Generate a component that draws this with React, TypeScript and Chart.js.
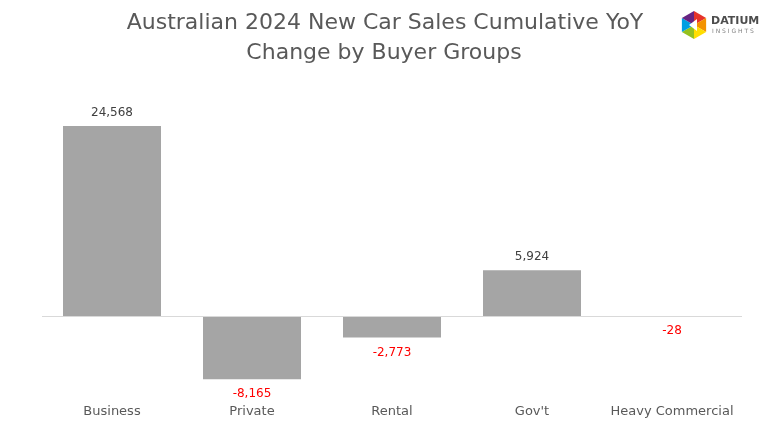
import React, { useEffect, useRef } from "react";
import { Chart, registerables } from "chart.js";
Chart.register(...registerables);

const categories = ["Business", "Private", "Rental", "Gov't", "Heavy Commercial"];
const yoyChange = [24568, -8165, -2773, 5924, -28];
const titleLines = ["Australian 2024 New Car Sales Cumulative YoY", "Change by Buyer Groups"];

const FONT = "'DejaVu Sans', sans-serif";

const decorPlugin = {
  id: "decor",
  afterDraw(chart: any) {
    const ctx = chart.ctx;
    const ys = chart.scales.y;
    const area = chart.chartArea;
    const y0 = Math.round(ys.getPixelForValue(0)) + 0.5;
    ctx.save();
    ctx.strokeStyle = "#d9d9d9";
    ctx.lineWidth = 1;
    ctx.beginPath();
    ctx.moveTo(area.left, y0);
    ctx.lineTo(area.right, y0);
    ctx.stroke();
    const meta = chart.getDatasetMeta(0);
    ctx.font = `12px ${FONT}`;
    ctx.textAlign = "center";
    ctx.textBaseline = "middle";
    meta.data.forEach((bar: any, i: number) => {
      const v = yoyChange[i];
      const txt = v.toLocaleString("en-US");
      if (v >= 0) {
        ctx.fillStyle = "#404040";
        ctx.fillText(txt, bar.x, bar.y - 13);
      } else {
        ctx.fillStyle = "#ff0000";
        ctx.fillText(txt, bar.x, bar.y + 15);
      }
    });
    ctx.fillStyle = "#595959";
    ctx.font = `22px ${FONT}`;
    ctx.fillText(titleLines[0], 385, 23);
    ctx.fillText(titleLines[1], 384, 53);
    // logo
    const cx = 694, cy = 25, r = 14;
    const cols = ["#e6332a", "#f39200", "#ffde00", "#95c11f", "#009fe3", "#662483"];
    for (let k = 0; k < 6; k++) {
      const a1 = -Math.PI / 2 + (k * Math.PI) / 3;
      const a2 = a1 + Math.PI / 3;
      ctx.fillStyle = cols[k];
      ctx.beginPath();
      ctx.moveTo(cx, cy);
      ctx.lineTo(cx + r * Math.cos(a1), cy + r * Math.sin(a1));
      ctx.lineTo(cx + r * Math.cos(a2), cy + r * Math.sin(a2));
      ctx.closePath();
      ctx.fill();
    }
    ctx.fillStyle = "#ffffff";
    ctx.beginPath();
    ctx.moveTo(cx - 5, cy);
    ctx.lineTo(cx + 3, cy - 6);
    ctx.lineTo(cx + 3, cy + 6);
    ctx.closePath();
    ctx.fill();
    ctx.textAlign = "left";
    ctx.fillStyle = "#4d4d4d";
    ctx.font = `bold 11px ${FONT}`;
    ctx.fillText("DATIUM", 711, 21);
    ctx.font = `6px ${FONT}`;
    ctx.fillStyle = "#808080";
    ctx.fillText("I N S I G H T S", 712, 31);
    ctx.restore();
  },
};

export default function App() {
  const ref = useRef<HTMLCanvasElement>(null);
  useEffect(() => {
    document.body.style.margin = "0";
    const chart = new Chart(ref.current!, {
      type: "bar",
      data: {
        labels: categories,
        datasets: [
          {
            data: yoyChange,
            backgroundColor: "#a5a5a5",
            borderWidth: 0,
            categoryPercentage: 0.7,
            barPercentage: 1,
          },
        ],
      },
      options: {
        animation: false,
        responsive: false,
        maintainAspectRatio: false,
        layout: { padding: { left: 42, right: 26, top: 84, bottom: 7 } },
        plugins: { legend: { display: false }, tooltip: { enabled: false } },
        scales: {
          x: {
            grid: { display: false },
            border: { display: false },
            ticks: { color: "#595959", font: { family: FONT, size: 13 }, padding: 2, maxRotation: 0, autoSkip: false },
          },
          y: { display: false, min: -10000, max: 30000 },
        },
      },
      plugins: [decorPlugin],
    });
    return () => chart.destroy();
  }, []);
  return (
    <div style={{ position: "fixed", left: 0, top: 0, width: 768, height: 428, background: "#fff" }}>
      <canvas ref={ref} width={768} height={428} />
    </div>
  );
}
